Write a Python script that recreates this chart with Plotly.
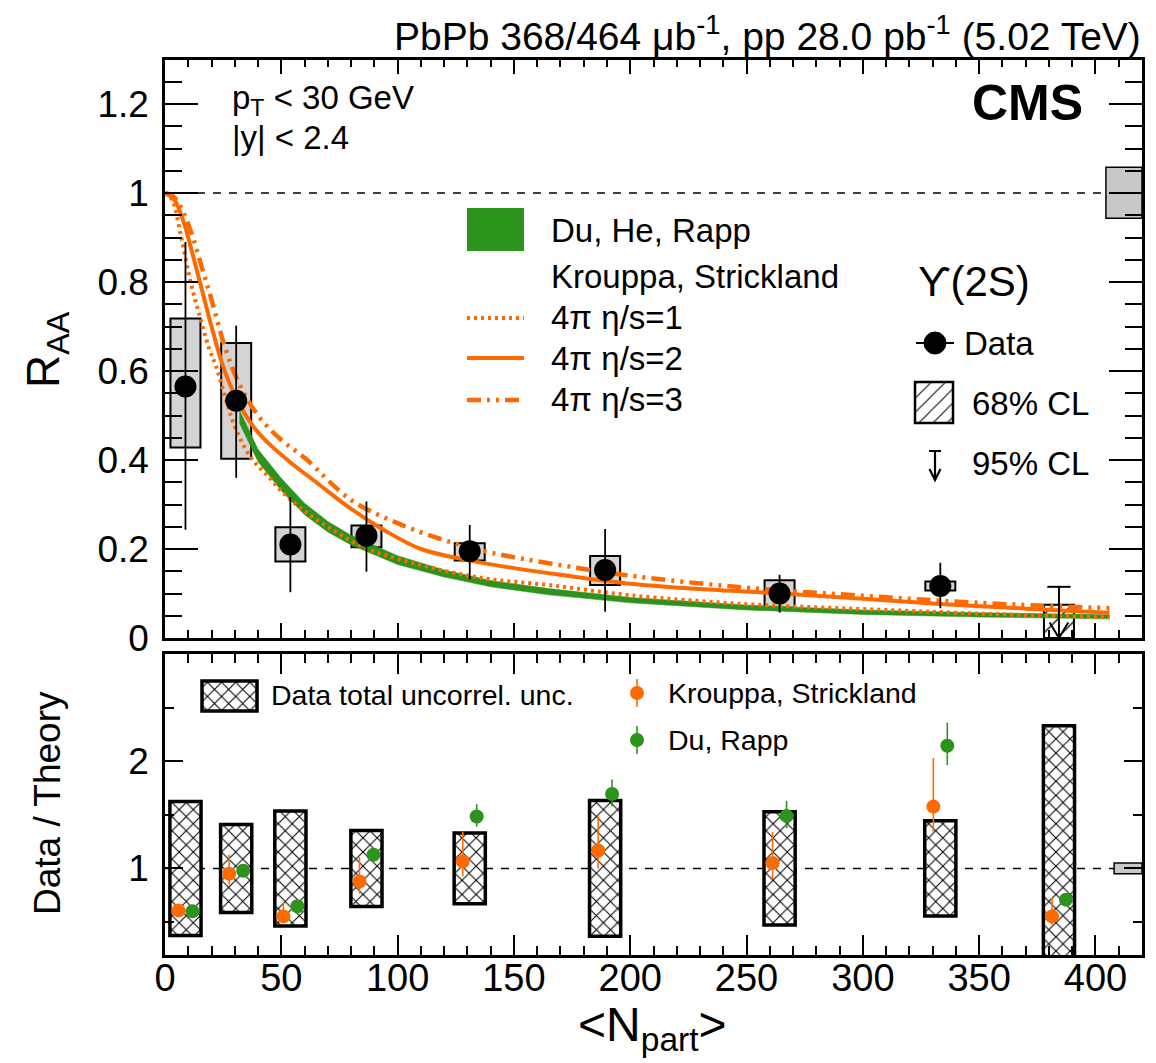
import plotly.graph_objects as go

W, H = 1156, 1063
FONT = "Liberation Sans, Arial, Helvetica, sans-serif"
ORANGE = "#ff6a00"
GREEN = "#2c931c"

# ---------------- data ----------------
npart = [8.8, 30.6, 53.9, 86.6, 131.0, 189.2, 264.2, 333.3]
raa = [0.565, 0.533, 0.210, 0.230, 0.195, 0.153, 0.100, 0.117]
stat_up = [0.325, 0.169, 0.107, 0.077, 0.059, 0.092, 0.042, 0.052]
stat_dn = [0.322, 0.173, 0.107, 0.081, 0.063, 0.094, 0.043, 0.050]
syst_lo = [0.428, 0.403, 0.172, 0.204, 0.174, 0.119, 0.068, 0.107]
syst_hi = [0.718, 0.663, 0.249, 0.253, 0.213, 0.184, 0.130, 0.127]

ul_npart = [384.3]
ul_68 = [0.075]
ul_95 = [0.115]

glob_top = [0.943, 1.058]
glob_bot = [0.95, 1.05]

# theory: Du, He, Rapp (band)
rapp_n = [32, 40, 50, 60, 70, 80, 100, 120, 140, 165, 200, 250, 300, 350, 406]
rapp_lo = [0.483, 0.396, 0.331, 0.277, 0.238, 0.209, 0.165, 0.137, 0.115, 0.097, 0.079, 0.063, 0.053, 0.047, 0.043]
rapp_hi = [0.512, 0.424, 0.359, 0.303, 0.262, 0.231, 0.185, 0.153, 0.129, 0.111, 0.091, 0.074, 0.063, 0.057, 0.052]

# theory: Krouppa, Strickland
ks1_n = [0, 3, 7, 11, 15, 19, 22, 26, 30, 37, 45, 51, 60, 72, 85, 100, 122, 140, 165, 200, 250, 300, 350, 406]
ks1_y = [1.0, 0.985, 0.90, 0.80, 0.722, 0.65, 0.61, 0.54, 0.475, 0.405, 0.36, 0.325, 0.285, 0.243, 0.205, 0.178, 0.149, 0.132, 0.119, 0.096, 0.076, 0.065, 0.055, 0.046]
ks2_n = [0, 4, 8, 12, 16, 20, 25, 31, 38, 45, 55, 65, 80, 95, 110, 130, 150, 170, 200, 230, 265, 300, 335, 370, 406]
ks2_y = [1.0, 0.985, 0.935, 0.86, 0.78, 0.70, 0.61, 0.535, 0.475, 0.435, 0.39, 0.35, 0.29, 0.24, 0.20, 0.175, 0.157, 0.142, 0.122, 0.110, 0.100, 0.088, 0.076, 0.066, 0.057]
ks3_n = [0, 4, 8, 12, 16, 20, 26, 32, 40, 50, 60, 80, 100, 120, 140, 165, 200, 250, 300, 350, 406]
ks3_y = [1.0, 0.99, 0.955, 0.90, 0.83, 0.76, 0.65, 0.57, 0.50, 0.445, 0.405, 0.31, 0.258, 0.22, 0.192, 0.168, 0.140, 0.113, 0.095, 0.079, 0.067]

# ratio panel
ratio_npart = [8.8, 30.6, 53.9, 86.6, 131.0, 189.2, 264.2, 333.3, 384.3]
data_unc = [0.625, 0.41, 0.537, 0.354, 0.33, 0.633, 0.528, 0.444, 1.33]
ks_ratio = [0.609, 0.951, 0.553, 0.879, 1.065, 1.167, 1.05, 1.577, 0.553]
ks_up = [0.04, 0.176, 0.127, 0.227, 0.279, 0.317, 0.29, 0.453, 0.172]
ks_dn = [0.04, 0.101, 0.058, 0.114, 0.139, 0.167, 0.15, 0.233, 0.077]
dr_ratio = [0.600, 0.979, 0.647, 1.127, 1.484, 1.695, 1.49, 2.144, 0.709]
dr_up = [0.03, 0.03, 0.03, 0.03, 0.116, 0.135, 0.14, 0.216, 0.03]
dr_dn = [0.03, 0.03, 0.03, 0.03, 0.094, 0.115, 0.114, 0.179, 0.03]

x_ticks = [0, 50, 100, 150, 200, 250, 300, 350, 400]

# ---------------- layout geometry ----------------
XL, XR = 165, 1142
T_TOP, T_BOT = 59.5, 638
B_TOP, B_BOT = 654, 955
XMAX = 420
TOP_RANGE = [0, 1.3]
BOT_RANGE = [0.193, 3.0]


def pxx(x):
    return x / W


def pxy(y):
    return 1 - y / H


def tx(px):  # pixel -> data x
    return (px - XL) / (XR - XL) * XMAX


def ty(py):  # pixel -> top-panel data y
    return TOP_RANGE[1] - (py - T_TOP) / (T_BOT - T_TOP) * (TOP_RANGE[1] - TOP_RANGE[0])


def by(py):  # pixel -> bottom-panel data y
    return BOT_RANGE[1] - (py - B_TOP) / (B_BOT - B_TOP) * (BOT_RANGE[1] - BOT_RANGE[0])


BOXW = 12.9
fig = go.Figure()

# ---------- top panel ----------
fig.add_trace(go.Bar(
    x=npart, y=[h - l for h, l in zip(syst_hi, syst_lo)], base=syst_lo, width=BOXW,
    marker=dict(color="#d4d4d4", line=dict(color="black", width=2)),
    xaxis="x", yaxis="y", showlegend=False, hoverinfo="skip"))
fig.add_trace(go.Bar(
    x=ul_npart, y=ul_68, base=[0], width=BOXW,
    marker=dict(color="white", line=dict(color="black", width=2),
                pattern=dict(shape="/", fgcolor="black", bgcolor="white", size=13, solidity=0.1, fillmode="replace")),
    xaxis="x", yaxis="y", showlegend=False, hoverinfo="skip"))
# legend box 68% CL
fig.add_trace(go.Bar(
    x=[(tx(915) + tx(953)) / 2], y=[ty(382) - ty(423)], base=[ty(423)], width=tx(953) - tx(915),
    marker=dict(color="white", line=dict(color="black", width=2.5),
                pattern=dict(shape="/", fgcolor="black", bgcolor="white", size=10, solidity=0.1, fillmode="replace")),
    xaxis="x", yaxis="y", showlegend=False, hoverinfo="skip"))

# Rapp band
fig.add_trace(go.Scatter(
    x=rapp_n + rapp_n[::-1], y=rapp_hi + rapp_lo[::-1], fill="toself", fillcolor=GREEN,
    line=dict(width=0.5, color=GREEN), mode="lines", xaxis="x", yaxis="y", showlegend=False, hoverinfo="skip"))
fig.add_trace(go.Scatter(x=ks1_n, y=ks1_y, mode="lines", line=dict(color=ORANGE, width=4, dash="3px,4px", shape="spline"),
                         xaxis="x", yaxis="y", showlegend=False, hoverinfo="skip"))
fig.add_trace(go.Scatter(x=ks2_n, y=ks2_y, mode="lines", line=dict(color=ORANGE, width=4, shape="spline"),
                         xaxis="x", yaxis="y", showlegend=False, hoverinfo="skip"))
fig.add_trace(go.Scatter(x=ks3_n, y=ks3_y, mode="lines",
                         line=dict(color=ORANGE, width=4.5, dash="14px,6px,3px,6px,3px,6px", shape="spline"),
                         xaxis="x", yaxis="y", showlegend=False, hoverinfo="skip"))

# data points
fig.add_trace(go.Scatter(
    x=npart, y=raa, mode="markers",
    marker=dict(color="black", size=22),
    error_y=dict(type="data", symmetric=False, array=stat_up, arrayminus=stat_dn, color="black", thickness=1.8, width=0),
    xaxis="x", yaxis="y", showlegend=False, hoverinfo="skip"))

# upper limit arrow
ulx, uly = [], []
for n, u in zip(ul_npart, ul_95):
    ulx += [n - 5, n + 5, None, n, n, None, n - 4, n, n + 4]
    uly += [u, u, None, u, 0.0, None, 0.035, 0.0, 0.035]
fig.add_trace(go.Scatter(x=ulx, y=uly, mode="lines", line=dict(color="black", width=2),
                         xaxis="x", yaxis="y", showlegend=False, hoverinfo="skip", cliponaxis=False))

# ---------- bottom panel ----------
hatch = dict(shape="x", fgcolor="black", bgcolor="white", size=10, solidity=0.2, fillmode="replace")
fig.add_trace(go.Bar(
    x=ratio_npart, y=[2 * u for u in data_unc], base=[1 - u for u in data_unc], width=13.4,
    marker=dict(color="white", line=dict(color="black", width=3.5), pattern=hatch),
    xaxis="x2", yaxis="y2", showlegend=False, hoverinfo="skip"))
# legend box (hatched)
fig.add_trace(go.Bar(
    x=[(tx(202) + tx(257)) / 2], y=[by(681) - by(711)], base=[by(711)], width=tx(257) - tx(202),
    marker=dict(color="white", line=dict(color="black", width=3.5), pattern=hatch),
    xaxis="x2", yaxis="y2", showlegend=False, hoverinfo="skip"))

fig.add_trace(go.Scatter(
    x=[n - 3 for n in ratio_npart], y=ks_ratio, mode="markers",
    marker=dict(color=ORANGE, size=14),
    error_y=dict(type="data", symmetric=False, array=ks_up, arrayminus=ks_dn, color=ORANGE, thickness=1.6, width=0),
    xaxis="x2", yaxis="y2", showlegend=False, hoverinfo="skip"))
fig.add_trace(go.Scatter(
    x=[n + 3 for n in ratio_npart], y=dr_ratio, mode="markers",
    marker=dict(color=GREEN, size=14),
    error_y=dict(type="data", symmetric=False, array=dr_up, arrayminus=dr_dn, color=GREEN, thickness=1.6, width=0),
    xaxis="x2", yaxis="y2", showlegend=False, hoverinfo="skip"))

# ---------- shapes ----------
shapes = [
    dict(type="line", xref="x", yref="y", x0=0, x1=404.5, y0=1, y1=1, line=dict(color="black", width=1.5, dash="8px,8px"), layer="below"),
    dict(type="rect", xref="x", yref="y", x0=404.5, x1=XMAX, y0=glob_top[0], y1=glob_top[1],
         fillcolor="#c8c8c8", line=dict(color="black", width=1.5), layer="below"),
    dict(type="line", xref="x2", yref="y2", x0=0, x1=408, y0=1, y1=1, line=dict(color="black", width=1.5, dash="8px,8px"), layer="below"),
    dict(type="rect", xref="x2", yref="y2", x0=408, x1=XMAX, y0=glob_bot[0], y1=glob_bot[1],
         fillcolor="#c8c8c8", line=dict(color="black", width=1.5), layer="below"),
    # top legend samples
    dict(type="rect", xref="paper", yref="paper", x0=pxx(467), x1=pxx(524), y0=pxy(251), y1=pxy(208),
         fillcolor=GREEN, line=dict(width=0)),
    dict(type="line", xref="paper", yref="paper", x0=pxx(467), x1=pxx(524), y0=pxy(318), y1=pxy(318),
         line=dict(color=ORANGE, width=4, dash="3px,4px")),
    dict(type="line", xref="paper", yref="paper", x0=pxx(467), x1=pxx(524), y0=pxy(358), y1=pxy(358),
         line=dict(color=ORANGE, width=4)),
    dict(type="line", xref="paper", yref="paper", x0=pxx(467), x1=pxx(524), y0=pxy(400), y1=pxy(400),
         line=dict(color=ORANGE, width=4.5, dash="14px,6px,3px,6px,3px,6px")),
    # Data legend
    dict(type="line", xref="paper", yref="paper", x0=pxx(916), x1=pxx(954), y0=pxy(343), y1=pxy(343),
         line=dict(color="black", width=1.8)),
    dict(type="circle", xref="paper", yref="paper", x0=pxx(924), x1=pxx(946), y0=pxy(354), y1=pxy(332),
         fillcolor="black", line=dict(color="black", width=1)),
    # 95% CL legend arrow
    dict(type="path", xref="paper", yref="paper",
         path=f"M {pxx(929)},{pxy(451)} L {pxx(941)},{pxy(451)} M {pxx(935)},{pxy(451)} L {pxx(935)},{pxy(480)} "
              f"M {pxx(929.5)},{pxy(469)} L {pxx(935)},{pxy(480)} L {pxx(940.5)},{pxy(469)}",
         line=dict(color="black", width=2.2)),
    # bottom legend markers
    dict(type="line", xref="paper", yref="paper", x0=pxx(637), x1=pxx(637), y0=pxy(679), y1=pxy(707),
         line=dict(color=ORANGE, width=1.6)),
    dict(type="circle", xref="paper", yref="paper", x0=pxx(630), x1=pxx(644), y0=pxy(700), y1=pxy(686),
         fillcolor=ORANGE, line=dict(color=ORANGE, width=0)),
    dict(type="line", xref="paper", yref="paper", x0=pxx(637), x1=pxx(637), y0=pxy(726), y1=pxy(754),
         line=dict(color=GREEN, width=1.6)),
    dict(type="circle", xref="paper", yref="paper", x0=pxx(630), x1=pxx(644), y0=pxy(747), y1=pxy(733),
         fillcolor=GREEN, line=dict(color=GREEN, width=0)),
]


def ann(text, x, y, size, xanchor="left", yanchor="middle", angle=0, bold=False, family=FONT):
    return dict(text=f"<b>{text}</b>" if bold else text, x=pxx(x), y=pxy(y), xref="paper", yref="paper",
                xanchor=xanchor, yanchor=yanchor, showarrow=False, textangle=angle,
                font=dict(family=family, size=size, color="black"))


annotations = [
    ann("PbPb 368/464 μb<sup>-1</sup>, pp 28.0 pb<sup>-1</sup> (5.02 TeV)", 1143, 34, 39, xanchor="right"),
    ann("CMS", 1085, 103, 50, xanchor="right", bold=True),
    ann("p<sub>T</sub> &lt; 30 GeV", 230, 100, 33),
    ann("|y| &lt; 2.4", 230, 137, 33),
    ann("Du, He, Rapp", 549, 230, 33),
    ann("Krouppa, Strickland", 549, 277, 33),
    ann("4π η/s=1", 549, 318, 33),
    ann("4π η/s=2", 549, 358, 33),
    ann("4π η/s=3", 549, 400, 33),
    ann("ϒ(2S)", 916, 281, 42),
    ann("Data", 962, 343, 33),
    ann("68% CL", 970, 403, 33),
    ann("95% CL", 970, 463, 33),
    ann("Data total uncorrel. unc.", 269, 695, 28.5),
    ann("Krouppa, Strickland", 666, 693, 28.5),
    ann("Du, Rapp", 666, 740, 28.5),
    ann("R<sub>AA</sub>", 46, 350, 46, xanchor="center", angle=-90),
    ann("Data / Theory", 47, 803, 37, xanchor="center", angle=-90),
    ann("&lt;N<sub>part</sub>&gt;", 652, 1028, 48, xanchor="center"),
]

axis_common = dict(showline=True, linecolor="black", linewidth=2.5, mirror="allticks", ticks="inside",
                   tickcolor="black", tickwidth=1.5, showgrid=False, zeroline=False, automargin=False)

fig.update_layout(
    width=W, height=H, autosize=False,
    margin=dict(l=0, r=0, t=0, b=0, pad=0),
    paper_bgcolor="white", plot_bgcolor="white",
    barmode="overlay",
    showlegend=False,
    shapes=shapes, annotations=annotations,
    xaxis=dict(domain=[pxx(XL), pxx(XR)], range=[0, XMAX], anchor="y", showticklabels=False,
               tickvals=x_ticks, ticklen=15,
               minor=dict(ticks="inside", dtick=10, tick0=0, ticklen=8, tickcolor="black", tickwidth=1.5),
               **axis_common),
    yaxis=dict(domain=[pxy(T_BOT), pxy(T_TOP)], range=TOP_RANGE, anchor="x",
               dtick=0.2, tick0=0, ticklen=33, ticklabelstandoff=6,
               tickfont=dict(family=FONT, size=37, color="black"),
               minor=dict(ticks="inside", dtick=0.05, tick0=0, ticklen=17, tickcolor="black", tickwidth=1.5),
               **axis_common),
    xaxis2=dict(domain=[pxx(XL), pxx(XR)], range=[0, XMAX], anchor="y2",
                tickvals=x_ticks, ticktext=[str(v) for v in x_ticks], ticklen=20, ticklabelstandoff=-12,
                tickfont=dict(family=FONT, size=38, color="black"),
                minor=dict(ticks="inside", dtick=10, tick0=0, ticklen=9, tickcolor="black", tickwidth=1.5),
                **axis_common),
    yaxis2=dict(domain=[pxy(B_BOT), pxy(B_TOP)], range=BOT_RANGE, anchor="x2",
                tickvals=[1, 2], ticklen=18, ticklabelstandoff=6,
                tickfont=dict(family=FONT, size=37, color="black"),
                minor=dict(ticks="inside", dtick=0.5, tick0=0, ticklen=9, tickcolor="black", tickwidth=1.5),
                **axis_common),
)

fig.write_html("out.html")
